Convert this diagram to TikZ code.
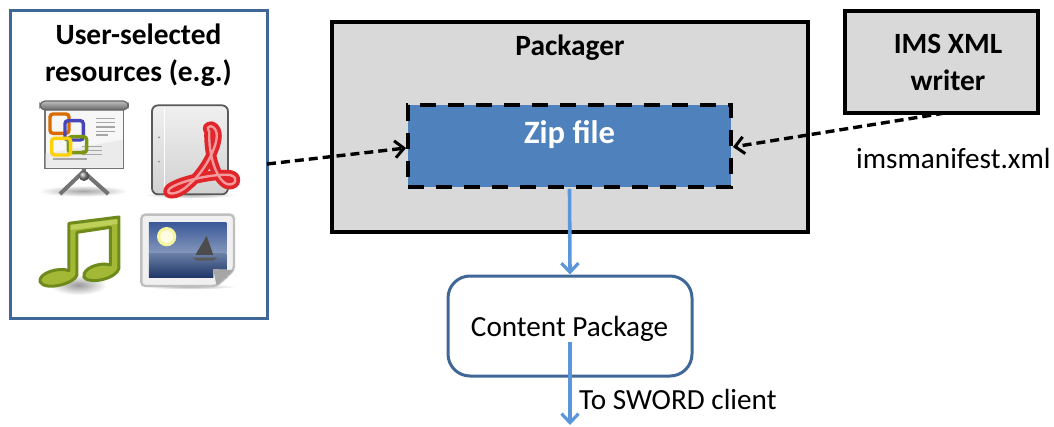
\documentclass[tikz,border=0pt]{standalone}
\usepackage{fontspec}
\setmainfont{Carlito}
\usetikzlibrary{arrows.meta}
\definecolor{frameblue}{HTML}{3F6797}
\definecolor{zipblue}{HTML}{4F81BD}
\definecolor{arrowblue}{HTML}{5B96DA}
\definecolor{boxgrey}{HTML}{D9D9D9}
\definecolor{noteedge}{HTML}{6F8A1C}
\definecolor{notefill}{HTML}{A3B935}
\definecolor{noteband}{HTML}{BFD05A}
\definecolor{pdfred}{HTML}{E0252B}
\definecolor{pdfpink}{HTML}{F49A9C}
\definecolor{skytop}{HTML}{3C5A9A}
\definecolor{skylow}{HTML}{8598BC}
\definecolor{seatop}{HTML}{6B80A6}
\definecolor{seabot}{HTML}{1E3567}
\definecolor{sunglow}{HTML}{F4F6A0}
\tikzset{
  panel/.style={draw=frameblue,line width=3pt,fill=white,inner sep=0pt},
  greybox/.style={draw=black,line width=3.8pt,fill=boxgrey,inner sep=0pt},
  zipbox/.style={fill=zipblue,draw=black,line width=3.8pt,dash pattern=on 16pt off 12pt,inner sep=0pt},
  cpbox/.style={draw=frameblue,line width=3pt,fill=white,rounded corners=22pt,inner sep=0pt},
  blackflow/.style={draw=black,line width=3.4pt,dash pattern=on 9pt off 5pt,-{Straight Barb[length=9pt,width=17pt,line width=3pt]}},
  blueflow/.style={draw=arrowblue,line width=3.6pt,-{Straight Barb[length=9pt,width=17pt,line width=3.2pt]}},
  label/.style={inner sep=0pt,font=\fontsize{29.2}{34}\selectfont,text=black},
  title/.style={inner sep=0pt,align=center,font=\fontsize{29.4}{37}\selectfont\bfseries,text=black},
  groupicon/.style={shift={(0,90)},x=0.3333pt,y=-0.3333pt}
}
\begin{document}
\begin{tikzpicture}[x=1pt,y=-1pt]
\useasboundingbox (0,0) rectangle (1054,426);
\fill[white] (0,0) rectangle (1054,426);
% boxes
\node[panel,minimum width=257pt,minimum height=308pt] (res) at (138.5,164) {};
\node[greybox,minimum width=476pt,minimum height=210pt] (pack) at (570,127) {};
\node[greybox,minimum width=193pt,minimum height=102pt] (ims) at (941.5,62) {};
\node[zipbox,minimum width=323pt,minimum height=82pt] (zip) at (569.5,146) {};
\node[cpbox,minimum width=244pt,minimum height=100pt] (cp) at (570,326) {};
% text
\node[title] (restitle) at (138.5,55.5) {User-selected\\resources (e.g.)};
\node[title] (packtitle) at (570,48) {Packager};
\node[title] (imstitle) at (948,62) {IMS XML\\writer};
\node[inner sep=0pt,font=\fontsize{32.6}{36}\selectfont\bfseries,text=white] (ziptitle) at (569.5,135) {Zip file};
\node[label] (cptext) at (569.5,328.5) {Content Package};
\node[label,anchor=west] (manifest) at (856,158) {imsmanifest.xml};
\node[label,anchor=west] (sword) at (579,399) {To SWORD client};
% connectors
\coordinate (resout) at (267,164);
\coordinate (imsout) at (945,113);
\coordinate (cpmid) at (570,342);
\coordinate (down) at (570,425);
\draw[blackflow] (resout) -- (zip.west |- 0,148);
\draw[blackflow] (imsout) -- (zip.east |- 0,147);
\draw[blueflow] (zip.south) -- (cp.north);
\draw[blueflow] (cpmid) -- (down);
% projector icon
\begin{scope}[groupicon]
\shade[inner color=black!35,outer color=white] (250,303) ellipse (135 and 17);
\draw[draw=black!55,fill=black!3,line width=1.6pt] (135,55) rectangle (370,235);
\fill[black!8] (137,190) -- (368,150) -- (368,233) -- (137,233) -- cycle;
\draw[black!60,top color=black!25,bottom color=black!60,line width=1.2pt,rounded corners=5pt] (120,33) rectangle (385,60);
\foreach \ya/\xa/\xb in {85/288/345,98/288/345,111/288/345,124/288/345,135/288/325,170/245/306,182/245/306,194/245/306,207/160/262}
  \draw[black!35,line width=1.4pt] (\xa,\ya) -- (\xb,\ya);
\draw[orange!85!black,line width=3.4pt,rounded corners=3pt] (150,72) rectangle (207,130);
\draw[blue!45!gray,line width=3.4pt,rounded corners=3pt] (195,92) rectangle (250,150);
\draw[olive!70!green,line width=3.4pt,rounded corners=3pt] (205,140) rectangle (260,188);
\draw[yellow!70!orange,line width=3.4pt,rounded corners=3pt] (155,145) rectangle (212,195);
\draw[black!55,line width=4pt] (250,245) -- (180,312) (250,245) -- (325,312) (252,235) -- (252,250);
\shade[ball color=black!45] (252,258) circle (15);
% pdf icon
\shade[inner color=black!30,outer color=white] (570,315) ellipse (140 and 10);
\draw[draw=black!65,top color=black!6,bottom color=black!18,line width=1.8pt,rounded corners=6pt] (456,46) rectangle (684,313);
\draw[white,line width=1.4pt] (493,55) -- (493,305);
\fill[black!45] (477,142) circle (3) (477,215) circle (3);
\draw[line width=10pt,draw=pdfred,line cap=round,line join=round]
  (628,125) .. controls (612,105) and (645,100) .. (650,130)
  .. controls (655,170) and (610,250) .. (565,285)
  .. controls (530,320) and (490,315) .. (510,295)
  .. controls (545,270) and (650,250) .. (690,255)
  .. controls (720,262) and (705,290) .. (680,282)
  .. controls (645,265) and (625,185) .. (628,125) -- cycle;
\draw[line width=2.4pt,draw=pdfpink,line cap=round,line join=round]
  (628,125) .. controls (612,105) and (645,100) .. (650,130)
  .. controls (655,170) and (610,250) .. (565,285)
  .. controls (530,320) and (490,315) .. (510,295)
  .. controls (545,270) and (650,250) .. (690,255)
  .. controls (720,262) and (705,290) .. (680,282)
  .. controls (645,265) and (625,185) .. (628,125) -- cycle;
% note icon
\shade[inner color=black!40,outer color=white] (235,585) ellipse (85 and 30);
\draw[draw=noteedge,fill=notefill,line width=3pt,line join=round]
  (207,400) -- (357,381) -- (357,535)
  .. controls (350,565) and (270,585) .. (252,562)
  .. controls (245,535) and (300,515) .. (331,525)
  -- (331,412) -- (231,427) -- (231,555)
  .. controls (225,580) and (135,605) .. (120,575)
  .. controls (115,550) and (175,530) .. (207,542) -- cycle;
\fill[noteband] (212,405) -- (352,388) -- (352,402) -- (212,420) -- cycle;
% picture icon
\shade[inner color=black!30,outer color=white] (570,590) ellipse (140 and 8);
\draw[draw=black!25,fill=black!6,line width=2.4pt,rounded corners=4pt] (424,374) -- (702,374) -- (702,540) -- (650,588) -- (424,588) -- cycle;
\fill[top color=skytop,bottom color=skylow] (447,398) rectangle (679,490);
\fill[top color=seatop,bottom color=seabot] (447,490) rectangle (679,563);
\fill[sunglow] (500,440) circle (29);
\fill[white!70!sunglow] (500,440) circle (19);
\fill[black!70] (620,438) -- (640,495) -- (586,495) -- cycle;
\fill[black!65] (578,503) -- (652,503) -- (640,512) -- (590,512) -- cycle;
\fill[black!6] (640,538) -- (702,540) -- (650,588) -- (640,563) -- cycle;
\fill[black!35] (640,538) -- (702,540) -- (650,588) -- cycle;
\end{scope}
\end{tikzpicture}
\end{document}
